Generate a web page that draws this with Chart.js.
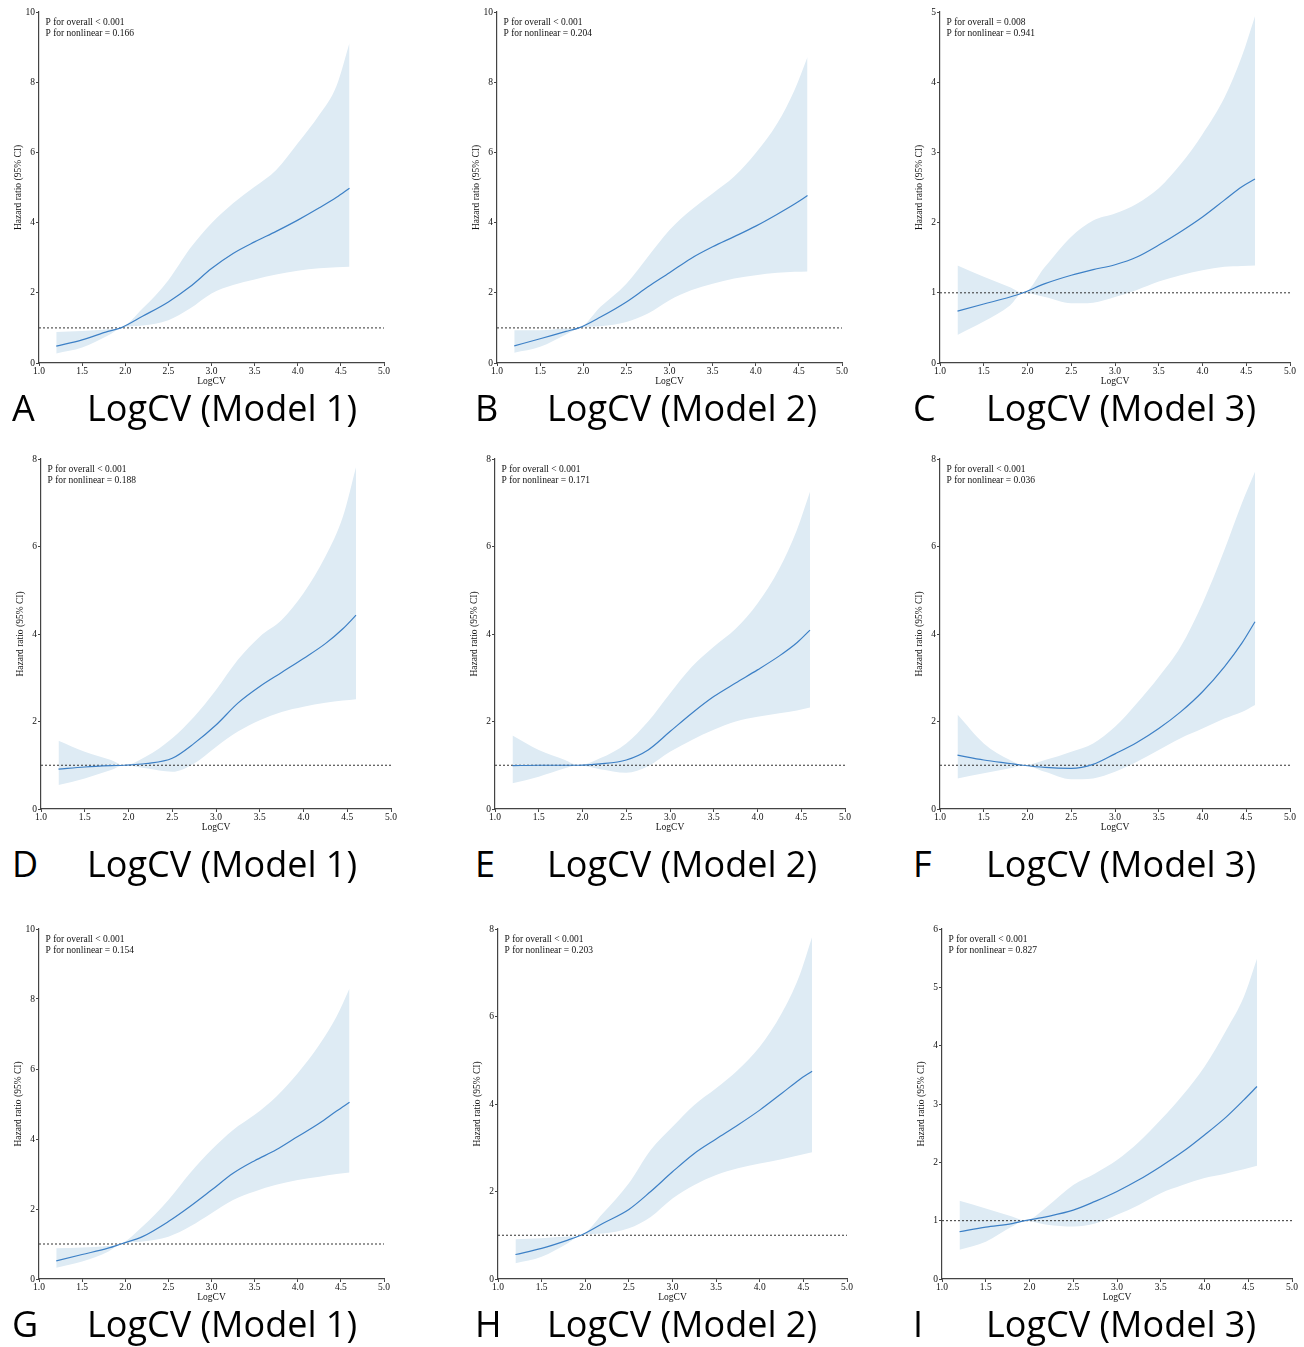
<!DOCTYPE html>
<html>
<head>
<meta charset="utf-8">
<script src="https://cdn.jsdelivr.net/npm/chart.js@4"></script>
<style>
  html, body { margin: 0; padding: 0; background: #fff; }
  #page { position: relative; width: 1304px; height: 1347px; overflow: hidden; }
  canvas { position: absolute; }
  .lbl { position: absolute; font-family: "Open Sans", "Noto Sans", sans-serif; font-size: 36px; line-height: 36px; color: #000; white-space: nowrap; }
</style>
</head>
<body>
<div id="page"></div>
<script>
// Shared x grid (LogCV)
const logCV = [1.2, 1.5, 1.8, 1.95, 2.2, 2.5, 2.75, 3.0, 3.25, 3.5, 3.75, 4.0, 4.25, 4.45, 4.6];
const xRange = [1.0, 5.0];
const refHR = 1;

// Panel A
const hrA = [0.48, 0.66, 0.90, 1.0, 1.33, 1.74, 2.17, 2.69, 3.12, 3.45, 3.75, 4.07, 4.42, 4.72, 4.98];
const upA = [0.88, 0.91, 0.96, 1.0, 1.55, 2.36, 3.26, 3.98, 4.55, 5.02, 5.5, 6.26, 7.07, 7.9, 9.12];
const loA = [0.27, 0.44, 0.78, 1.0, 1.07, 1.22, 1.55, 1.98, 2.22, 2.38, 2.52, 2.63, 2.7, 2.73, 2.74];
// Panel B
const hrB = [0.49, 0.69, 0.90, 1.0, 1.31, 1.74, 2.17, 2.57, 2.98, 3.31, 3.6, 3.9, 4.24, 4.53, 4.77];
const upB = [0.93, 0.93, 0.98, 1.0, 1.6, 2.26, 3.03, 3.79, 4.36, 4.83, 5.31, 5.98, 6.83, 7.78, 8.72];
const loB = [0.29, 0.46, 0.81, 1.0, 1.05, 1.17, 1.41, 1.79, 2.07, 2.26, 2.41, 2.5, 2.57, 2.6, 2.61];
// Panel C
const hrC = [0.74, 0.84, 0.94, 1.0, 1.13, 1.25, 1.33, 1.40, 1.51, 1.68, 1.87, 2.08, 2.32, 2.51, 2.62];
const upC = [1.39, 1.23, 1.08, 1.0, 1.37, 1.80, 2.03, 2.13, 2.27, 2.49, 2.83, 3.26, 3.78, 4.37, 4.94];
const loC = [0.40, 0.59, 0.82, 1.0, 0.94, 0.85, 0.86, 0.94, 1.04, 1.16, 1.25, 1.32, 1.37, 1.38, 1.39];
// Panel D
const hrD = [0.91, 0.96, 0.99, 1.0, 1.04, 1.16, 1.5, 1.92, 2.42, 2.80, 3.12, 3.44, 3.78, 4.12, 4.43];
const upD = [1.56, 1.31, 1.12, 1.0, 1.2, 1.62, 2.11, 2.72, 3.41, 3.94, 4.32, 4.93, 5.77, 6.68, 7.81];
const loD = [0.55, 0.70, 0.89, 1.0, 0.93, 0.85, 1.04, 1.42, 1.77, 2.03, 2.22, 2.34, 2.43, 2.48, 2.51];
// Panel E
const hrE = [0.99, 1.0, 1.0, 1.0, 1.03, 1.12, 1.35, 1.77, 2.19, 2.57, 2.88, 3.18, 3.5, 3.8, 4.09];
const upE = [1.68, 1.35, 1.12, 1.0, 1.16, 1.5, 2.0, 2.64, 3.25, 3.71, 4.12, 4.7, 5.5, 6.38, 7.25];
const loE = [0.59, 0.74, 0.93, 1.0, 0.91, 0.83, 0.98, 1.31, 1.58, 1.81, 2.0, 2.11, 2.19, 2.25, 2.32];
// Panel F
const hrF = [1.23, 1.12, 1.04, 1.0, 0.95, 0.93, 1.02, 1.26, 1.52, 1.84, 2.22, 2.68, 3.25, 3.79, 4.28];
const upF = [2.16, 1.5, 1.12, 1.0, 1.12, 1.31, 1.5, 1.88, 2.42, 3.02, 3.71, 4.7, 5.92, 6.99, 7.71];
const loF = [0.70, 0.82, 0.93, 1.0, 0.85, 0.68, 0.70, 0.85, 1.08, 1.35, 1.62, 1.84, 2.07, 2.22, 2.38];
// Panel G
const hrG = [0.52, 0.70, 0.88, 1.0, 1.21, 1.64, 2.07, 2.54, 3.02, 3.38, 3.69, 4.07, 4.45, 4.8, 5.05];
const upG = [0.88, 0.9, 0.94, 1.0, 1.5, 2.26, 3.02, 3.69, 4.26, 4.69, 5.21, 5.88, 6.69, 7.5, 8.3];
const loG = [0.32, 0.5, 0.78, 1.0, 1.07, 1.21, 1.5, 1.88, 2.26, 2.5, 2.69, 2.83, 2.92, 3.0, 3.04];
// Panel H
const hrH = [0.56, 0.70, 0.89, 1.0, 1.27, 1.59, 2.0, 2.45, 2.87, 3.2, 3.52, 3.86, 4.24, 4.55, 4.75];
const upH = [0.91, 0.93, 0.97, 1.0, 1.5, 2.19, 2.95, 3.48, 3.98, 4.36, 4.78, 5.31, 6.07, 6.91, 7.82];
const loH = [0.36, 0.51, 0.82, 1.0, 1.04, 1.16, 1.42, 1.84, 2.15, 2.38, 2.53, 2.64, 2.74, 2.83, 2.9];
// Panel I
const hrI = [0.81, 0.89, 0.95, 1.0, 1.07, 1.18, 1.33, 1.5, 1.7, 1.93, 2.18, 2.47, 2.78, 3.07, 3.3];
const upI = [1.34, 1.21, 1.07, 1.0, 1.24, 1.61, 1.81, 2.04, 2.35, 2.73, 3.15, 3.64, 4.27, 4.84, 5.49];
const loI = [0.5, 0.64, 0.90, 1.0, 0.93, 0.90, 0.95, 1.1, 1.27, 1.47, 1.61, 1.73, 1.81, 1.88, 1.94];

// Panel text + axis ranges
const panelLetters = ['A', 'B', 'C', 'D', 'E', 'F', 'G', 'H', 'I'];
const panelTitles = ['LogCV (Model 1)', 'LogCV (Model 2)', 'LogCV (Model 3)',
                     'LogCV (Model 1)', 'LogCV (Model 2)', 'LogCV (Model 3)',
                     'LogCV (Model 1)', 'LogCV (Model 2)', 'LogCV (Model 3)'];
const pOverall = ['< 0.001', '< 0.001', '= 0.008', '< 0.001', '< 0.001', '< 0.001', '< 0.001', '< 0.001', '< 0.001'];
const pNonlinear = ['0.166', '0.204', '0.941', '0.188', '0.171', '0.036', '0.154', '0.203', '0.827'];
const yMax = [10, 10, 5, 8, 8, 8, 10, 8, 6];
const yStep = [2, 2, 1, 2, 2, 2, 2, 2, 1];

const hrSeries = [hrA, hrB, hrC, hrD, hrE, hrF, hrG, hrH, hrI];
const upSeries = [upA, upB, upC, upD, upE, upF, upG, upH, upI];
const loSeries = [loA, loB, loC, loD, loE, loF, loG, loH, loI];

// Layout: plot area [left, top, right, bottom] for each panel
const areas = [
    [39, 12, 384, 363], [497, 12, 842, 363], [940, 12, 1290, 363],
    [41, 459, 391, 809], [495, 459, 845, 809], [940, 459, 1290, 809],
    [39, 929, 384, 1279], [498, 929, 847, 1279], [942, 929, 1292, 1279]
];
const letterX = [12, 475, 913];
const titleX = [87, 547, 986];
const labelTop = [390, 846, 1306];

const AXIS_W = 30, AXIS_H = 28, PAD_T = 12, PAD_R = 20;
const serif = '"Liberation Serif", "Times New Roman", serif';
const inkColor = '#111';
const axisColor = '#444';
const bandColor = '#deebf4';
const lineColor = '#3d80c6';

const page = document.getElementById('page');

const pTextPlugin = {
    id: 'pText',
    afterDraw(chart, args, opts) {
        const { ctx, chartArea } = chart;
        ctx.save();
        ctx.font = '9.5px ' + serif;
        ctx.fillStyle = inkColor;
        ctx.textBaseline = 'middle';
        ctx.textAlign = 'left';
        ctx.fillText('P for overall ' + opts.overall, chartArea.left + 6.5, chartArea.top + 10.5);
        ctx.fillText('P for nonlinear = ' + opts.nonlinear, chartArea.left + 6.5, chartArea.top + 21);
        ctx.restore();
    }
};

function toPoints(arr) {
    return logCV.map((x, i) => ({ x: x, y: arr[i] }));
}

function makePanel(i) {
    const [l, t, r, b] = areas[i];
    const w = (r - l) + AXIS_W + PAD_R;
    const h = (b - t) + PAD_T + AXIS_H;
    const canvas = document.createElement('canvas');
    canvas.width = w;
    canvas.height = h;
    canvas.style.width = w + 'px';
    canvas.style.height = h + 'px';
    canvas.style.left = (l - AXIS_W) + 'px';
    canvas.style.top = (t - PAD_T) + 'px';
    page.appendChild(canvas);

    const row = Math.floor(i / 3), col = i % 3;
    const letter = document.createElement('div');
    letter.className = 'lbl';
    letter.textContent = panelLetters[i];
    letter.style.left = letterX[col] + 'px';
    letter.style.top = labelTop[row] + 'px';
    page.appendChild(letter);
    const title = document.createElement('div');
    title.className = 'lbl';
    title.textContent = panelTitles[i];
    title.style.left = titleX[col] + 'px';
    title.style.top = labelTop[row] + 'px';
    page.appendChild(title);

    const tickFont = { family: serif, size: 9.5 };
    new Chart(canvas.getContext('2d'), {
        type: 'line',
        data: {
            datasets: [
                {
                    data: toPoints(hrSeries[i]),
                    borderColor: lineColor,
                    borderWidth: 1.2,
                    pointRadius: 0,
                    fill: false,
                    cubicInterpolationMode: 'monotone'
                },
                {
                    data: [{ x: xRange[0], y: refHR }, { x: xRange[1], y: refHR }],
                    borderColor: '#333',
                    borderWidth: 1,
                    borderDash: [2, 2],
                    pointRadius: 0,
                    fill: false
                },
                {
                    data: toPoints(upSeries[i]),
                    borderWidth: 0,
                    borderColor: 'rgba(0,0,0,0)',
                    backgroundColor: bandColor,
                    pointRadius: 0,
                    fill: '+1',
                    cubicInterpolationMode: 'monotone'
                },
                {
                    data: toPoints(loSeries[i]),
                    borderWidth: 0,
                    borderColor: 'rgba(0,0,0,0)',
                    pointRadius: 0,
                    fill: false,
                    cubicInterpolationMode: 'monotone'
                }
            ]
        },
        options: {
            responsive: false,
            animation: false,
            layout: { padding: { top: PAD_T, right: PAD_R, left: 0, bottom: 0 } },
            plugins: {
                legend: { display: false },
                tooltip: { enabled: false },
                pText: { overall: pOverall[i], nonlinear: pNonlinear[i] }
            },
            scales: {
                x: {
                    type: 'linear',
                    min: xRange[0],
                    max: xRange[1],
                    afterFit: (s) => { s.height = AXIS_H; },
                    grid: { drawOnChartArea: false, drawTicks: true, tickLength: 3, color: axisColor },
                    border: { display: true, color: axisColor, width: 1.2 },
                    ticks: {
                        stepSize: 0.5,
                        padding: 0,
                        maxRotation: 0,
                        autoSkip: false,
                        color: inkColor,
                        font: tickFont,
                        callback: (v) => v.toFixed(1)
                    },
                    title: { display: true, text: 'LogCV', color: inkColor, font: tickFont, padding: { top: 0, bottom: 4 } }
                },
                y: {
                    type: 'linear',
                    min: 0,
                    max: yMax[i],
                    afterFit: (s) => { s.width = AXIS_W; },
                    grid: { drawOnChartArea: false, drawTicks: true, tickLength: 3, color: axisColor },
                    border: { display: true, color: axisColor, width: 1.2 },
                    ticks: {
                        stepSize: yStep[i],
                        padding: 1,
                        color: inkColor,
                        font: tickFont
                    },
                    title: { display: true, text: 'Hazard ratio (95% CI)', color: inkColor, font: tickFont, padding: { top: 4, bottom: 0 } }
                }
            }
        },
        plugins: [pTextPlugin]
    });
}

for (let i = 0; i < 9; i++) makePanel(i);
</script>
</body>
</html>
